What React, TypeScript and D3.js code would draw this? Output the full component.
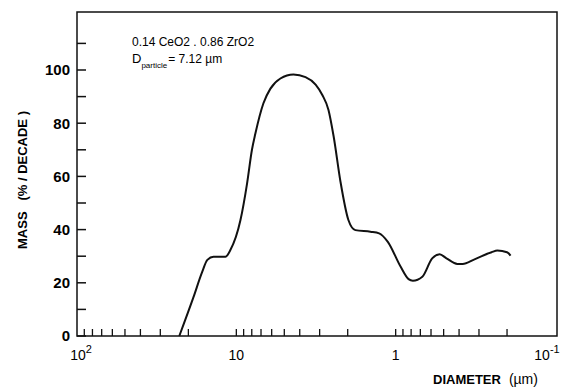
import { useEffect, useRef } from 'react';
import * as d3 from 'd3';

// particle size distribution, diameter in µm (decreasing, axis runs 100 -> 0.1)
const diameters = [22.8, 18.6, 16.4, 15.2, 13.9, 11.7, 10.9, 9.42, 8.56, 7.98, 7.6, 6.76, 6.11, 5.29, 4.38, 3.68, 3.18, 2.88, 2.64, 2.45, 2.22, 1.98, 1.79, 1.44, 1.27, 1.12, 0.93, 0.83, 0.78, 0.68, 0.59, 0.53, 0.48, 0.41, 0.38, 0.32, 0.25, 0.23, 0.2, 0.19];
const mass = [0, 14.5, 24, 28.6, 29.8, 29.8, 32.3, 43.6, 57.4, 70, 76, 87.5, 93, 96.8, 98.3, 97.3, 94.5, 90.5, 85, 75, 58, 43.6, 39.8, 39.2, 38.6, 35.4, 26, 21.4, 20.8, 22.3, 29.2, 30.7, 29.2, 27.1, 27.1, 28.8, 31.5, 32.1, 31.5, 30.2];

const yTicks = [0, 20, 40, 60, 80, 100];
const yMinor = [10, 30, 50, 70, 90, 110];
const xDecades = [100, 10, 1, 0.1];
const xDecadeLabels = [['10', '2'], ['10', ''], ['1', ''], ['10', '-1']];

const W = 562;
const H = 389;

export default function App() {
  const svgRef = useRef<SVGSVGElement>(null);

  useEffect(() => {
    if (!svgRef.current) return;
    const svg = d3.select(svgRef.current);
    svg.selectAll('*').remove();

    const left = 77, right = 557, top = 12, bottom = 336;
    const font = 'Liberation Sans, Arial, sans-serif';

    const x = d3.scaleLog().domain([100, 0.1]).range([left, 555]);
    const y = d3.scaleLinear().domain([0, 100]).range([bottom, 70]);

    // frame
    svg.append('rect')
      .attr('x', left).attr('y', top)
      .attr('width', right - left).attr('height', bottom - top)
      .attr('fill', 'none').attr('stroke', '#111').attr('stroke-width', 1.5);

    // y ticks
    svg.selectAll('.ytick')
      .data([...yTicks, ...yMinor])
      .join('line')
      .attr('x1', left).attr('x2', left + 9)
      .attr('y1', (d: number) => y(d)).attr('y2', (d: number) => y(d))
      .attr('stroke', '#111').attr('stroke-width', 1.5);

    svg.selectAll('.ylab')
      .data(yTicks)
      .join('text')
      .attr('x', 70).attr('y', (d: number) => y(d))
      .attr('dy', '0.36em')
      .attr('text-anchor', 'end')
      .style('font-family', font).style('font-weight', 'bold').style('font-size', '15px')
      .text((d: number) => String(d));

    // x ticks: 1..9 per decade
    const xt: number[] = [];
    for (let k = -1; k < 2; k++) {
      for (let m = 1; m < 10; m++) xt.push(m * Math.pow(10, k));
    }
    svg.selectAll('.xtick')
      .data(xt.filter((d) => d > 0.1 && d < 100))
      .join('line')
      .attr('x1', (d: number) => x(d)).attr('x2', (d: number) => x(d))
      .attr('y1', bottom).attr('y2', bottom - 7)
      .attr('stroke', '#111').attr('stroke-width', 1.3);

    const xl = svg.selectAll('.xlab')
      .data(xDecades)
      .join('text')
      .attr('x', (d: number, i: number) => x(d) + (i === 0 ? 4 : i === 3 ? -8 : 0))
      .attr('y', 360)
      .attr('text-anchor', 'middle')
      .style('font-family', font).style('font-size', '14px');
    xl.each(function (this: SVGTextElement, _d: number, i: number) {
      const t = d3.select(this);
      t.append('tspan').text(xDecadeLabels[i][0]);
      if (xDecadeLabels[i][1]) {
        t.append('tspan').attr('dy', -7).style('font-size', '11px').text(xDecadeLabels[i][1]);
      }
    });

    // curve
    const pts = diameters.map((d, i) => [d, mass[i]] as [number, number]);
    const line = d3.line<[number, number]>()
      .x((p) => x(p[0]))
      .y((p) => y(p[1]))
      .curve(d3.curveMonotoneX);
    svg.append('path')
      .attr('d', line(pts))
      .attr('fill', 'none').attr('stroke', '#111').attr('stroke-width', 2);

    // axis titles
    svg.append('text')
      .attr('transform', `translate(27,180) rotate(-90)`)
      .attr('text-anchor', 'middle')
      .style('font-family', font).style('font-weight', 'bold').style('font-size', '13px')
      .attr('xml:space', 'preserve')
      .text('MASS   (% / DECADE )');

    const xt2 = svg.append('text')
      .attr('x', 433).attr('y', 384)
      .style('font-family', font).style('font-weight', 'bold').style('font-size', '13px');
    xt2.append('tspan').text('DIAMETER');
    xt2.append('tspan').attr('dx', 8).style('font-weight', 'normal').style('font-size', '14px').text('(µm)');

    // annotation
    svg.append('text')
      .attr('x', 132).attr('y', 46)
      .style('font-family', font).style('font-size', '12px')
      .text('0.14 CeO2 . 0.86 ZrO2');
    const ann = svg.append('text')
      .attr('x', 132).attr('y', 63)
      .style('font-family', font).style('font-size', '12px');
    ann.append('tspan').style('font-size', '13px').text('D');
    ann.append('tspan').attr('dy', 5).style('font-size', '8px').text('particle');
    ann.append('tspan').attr('dy', -5).attr('dx', 1).text('= 7.12 µm');
  }, []);

  return (
    <svg ref={svgRef} width={W} height={H}
      style={{ position: 'absolute', left: 0, top: 0, background: '#fff' }} />
  );
}
